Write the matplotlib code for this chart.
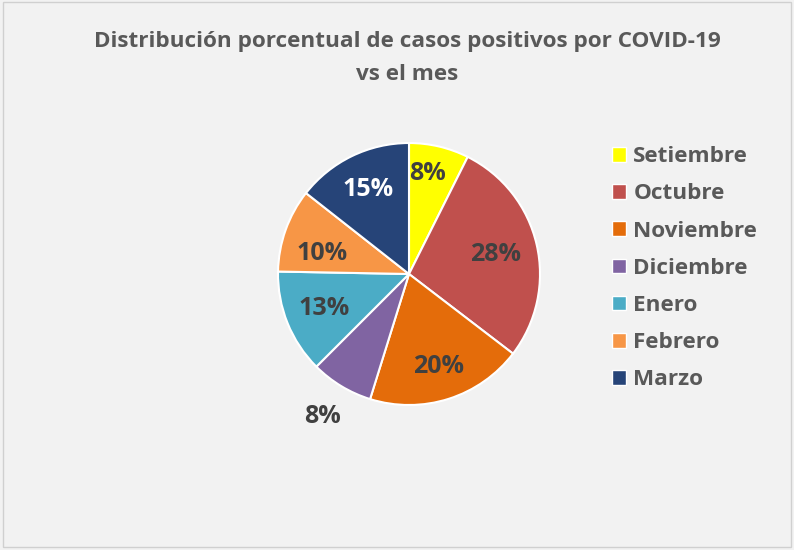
import numpy as np
import matplotlib.pyplot as plt
from matplotlib.patches import Rectangle

meses = ["Setiembre", "Octubre", "Noviembre", "Diciembre", "Enero", "Febrero", "Marzo"]
valores = [7.4, 28.0, 19.4, 7.7, 12.8, 10.3, 14.4]
etiquetas = ["8%", "28%", "20%", "8%", "13%", "10%", "15%"]
colores = ["#FFFF00", "#C0504D", "#E46C0A", "#8064A2", "#4BACC6", "#F79646", "#264478"]
color_texto = ["#404040", "#404040", "#404040", "#404040", "#404040", "#404040", "#FFFFFF"]
dist_texto = [0.78, 0.68, 0.74, 1.27, 0.70, 0.68, 0.72]
desv_ang = [3, 0, 0, 0, 0, 6, 0]  # small tweaks of label angle (deg)

W, H = 794, 550
fig = plt.figure(figsize=(W / 100, H / 100), dpi=100)
fig.patch.set_facecolor("#F2F2F2")
fig.patches.append(Rectangle((0.004, 0.006), 0.992, 0.99, transform=fig.transFigure,
                             fill=False, edgecolor="#D0D0D0", linewidth=1))

fuente = "Open Sans"

fig.text(407 / W, 1 - 42 / H, "Distribución porcentual de casos positivos por COVID-19",
         ha="center", va="center", fontsize=16.2, fontweight="bold", color="#595959", family=fuente)
fig.text(407 / W, 1 - 75 / H, "vs el mes",
         ha="center", va="center", fontsize=16.2, fontweight="bold", color="#595959", family=fuente)

# pie
cx, cy, r = 409, 274, 131
ax = fig.add_axes([(cx - r) / W, (H - cy - r) / H, 2 * r / W, 2 * r / H])
ax.set_facecolor("none")
wedges, _ = ax.pie(valores, colors=colores, startangle=90, counterclock=False,
                   wedgeprops=dict(edgecolor="white", linewidth=1.5), radius=1)
total = sum(valores)
ang = 90
for i, w in enumerate(wedges):
    a = ang - valores[i] / total * 360 / 2 + desv_ang[i]
    ang -= valores[i] / total * 360
    x = dist_texto[i] * np.cos(np.radians(a))
    y = dist_texto[i] * np.sin(np.radians(a))
    ax.text(x, y, etiquetas[i], ha="center", va="center", fontsize=18, fontweight="bold",
            color=color_texto[i], family=fuente, clip_on=False)
ax.set_xlim(-1, 1)
ax.set_ylim(-1, 1)
ax.axis("off")

# legend
handles = [Rectangle((0, 0), 1, 1, facecolor=c, edgecolor="white", linewidth=1) for c in colores]
fig.legend(handles, meses, loc="upper left", bbox_to_anchor=(592 / W, 1 - 126 / H),
           frameon=False, prop=dict(family=fuente, weight="bold", size=16.2),
           labelcolor="#595959", handlelength=0.62, handleheight=0.62, handletextpad=0.32,
           labelspacing=0.72)

fig.savefig("out.png", dpi=100, facecolor=fig.get_facecolor())
